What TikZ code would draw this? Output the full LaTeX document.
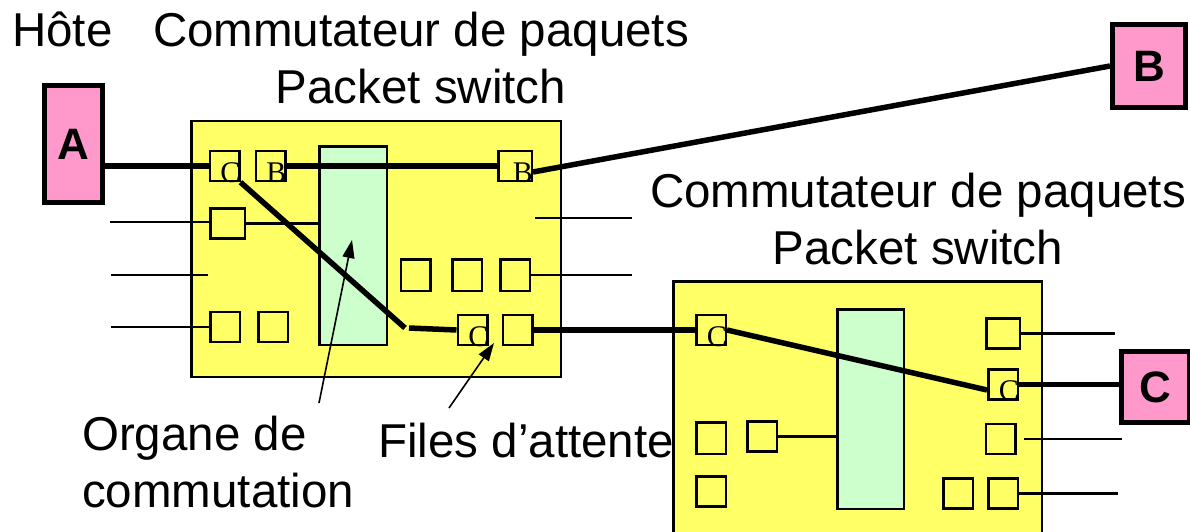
\documentclass[tikz,border=0pt]{standalone}
\usepackage{fontspec}
\setmainfont{Liberation Sans}
\newfontfamily\psserif{Liberation Serif}
\usepackage{tikz}
\usetikzlibrary{arrows.meta}
\definecolor{psYellow}{HTML}{FFFF66}
\definecolor{psGreen}{HTML}{CCFFCC}
\definecolor{psPink}{HTML}{FF99CC}
\tikzset{
  swbox/.style={draw, fill=psYellow, line width=2.5pt, anchor=north west, inner sep=0pt},
  fabric/.style={draw, fill=psGreen, line width=2.5pt, anchor=north west, inner sep=0pt},
  queue/.style={draw, line width=2.5pt, minimum width=29.5pt, minimum height=30pt, inner sep=0pt},
  qlabel/.style={anchor=base east, inner sep=0pt, font=\psserif\fontsize{30}{30}\selectfont},
  host/.style={draw, fill=psPink, line width=5pt, anchor=north west, inner sep=0pt,
    font=\fontsize{44}{44}\selectfont\bfseries},
  trunk/.style={line width=5.5pt},
  wire/.style={line width=2.5pt},
  callout/.style={-{Triangle[length=18pt, width=12pt]}, line width=1.6pt},
  caption/.style={inner sep=0pt, font=\fontsize{47.5}{57}\selectfont}
}

\begin{document}
\begin{tikzpicture}[x=1pt, y=-1pt]
  \useasboundingbox (0,0) rectangle (1190,532);
  % titles
  \node[caption, anchor=base west] (hote) at (12,47) {Hôte};
  \node[caption, align=center, anchor=base] (title1) at (421,103) {Commutateur de paquets\\Packet switch};
  \node[caption, align=center, anchor=base] (title2) at (918,264) {Commutateur de paquets\\Packet switch};
  % hosts
  \node[host, minimum width=58pt, minimum height=117pt] (A) at (42,83) {A};
  \node[host, minimum width=73pt, minimum height=83pt] (B) at (1110,22) {B};
  \node[host, minimum width=68pt, minimum height=71pt] (C) at (1119,349) {C};
  % first switch
  \node[swbox, minimum width=369.5pt, minimum height=255.5pt] (sw1) at (190,120) {};
  \node[fabric, minimum width=67.5pt, minimum height=198.5pt] (org1) at (318,145) {};
  \coordinate (w1a) at (110,222);
  \coordinate (w1b) at (535,218);
  \coordinate (w1c) at (632,218);
  \coordinate (w1d) at (111,275);
  \coordinate (w1e) at (208,275);
  \coordinate (w1f) at (632,273);
  \coordinate (w1g) at (111,327);
  \coordinate (pivot) at (405,328);
  \node[queue, label={[qlabel]south east:C}] (q1c) at (224.5,166) {};
  \node[queue, label={[qlabel]south east:B}] (q1b) at (270.5,166) {};
  \node[queue, minimum width=33.5pt, label={[qlabel]south east:B}] (q1bo) at (515,166) {};
  \node[queue, minimum width=34.5pt] (q1m) at (227.5,223.5) {};
  \node[queue, minimum height=31.5pt] (q1r1) at (415.5,275) {};
  \node[queue, minimum height=31.5pt] (q1r2) at (467,275) {};
  \node[queue, minimum height=31.5pt] (q1r3) at (515,275) {};
  \node[queue] (q1l1) at (225,327) {};
  \node[queue] (q1l2) at (273,327) {};
  \node[queue, label={[qlabel]south east:C}] (q1c2) at (472.5,330) {};
  \node[queue] (q1o) at (517.5,330) {};
  % second switch
  \node[swbox, minimum width=368.5pt, minimum height=270pt] (sw2) at (672,280) {};
  \node[fabric, minimum width=66.5pt, minimum height=199.5pt] (org2) at (836,308) {};
  \coordinate (w2a) at (1115,329);
  \coordinate (w2b) at (1024,439);
  \coordinate (w2c) at (1122,439);
  \coordinate (w2d) at (1118,490);
  \node[queue, label={[qlabel]south east:C}] (q2c) at (711,330) {};
  \node[queue, minimum width=33.5pt] (q2r1) at (1003,333.5) {};
  \node[queue, label={[qlabel]south east:C}] (q2rc) at (1003,384.5) {};
  \node[queue] (q2r3) at (1000.5,439) {};
  \node[queue] (q2r4a) at (958,493.5) {};
  \node[queue] (q2r4b) at (1003,493.5) {};
  \node[queue, minimum height=31.5pt] (q2l1) at (711,438) {};
  \node[queue] (q2l2) at (762,436.5) {};
  \node[queue] (q2l3) at (711,491.5) {};
  % thin links
  \draw[wire] (w1a) -- (w1a -| q1m.west);
  \draw[wire] (q1m.east) -- (q1m.east -| org1.west);
  \draw[wire] (w1b) -- (w1c);
  \draw[wire] (w1d) -- (w1e);
  \draw[wire] (q1r3.east) -- (q1r3.east -| w1f);
  \draw[wire] (w1g) -- (q1l1.west);
  \draw[wire] (q2r1.east) -- (q2r1.east -| w2a);
  \draw[wire] (w2b) -- (w2c);
  \draw[wire] (q2r4b.east) -- (q2r4b.east -| w2d);
  \draw[wire] (q2l2.east) -- (q2l2.east -| org2.west);
  % virtual circuits
  \draw[trunk] (A.east |- q1c.west) -- (q1c.west);
  \draw[trunk] (q1b.east) -- (q1bo.west);
  \draw[trunk] ([yshift=-6pt]q1bo.east) -- (B.west);
  \draw[trunk] (q1c.south east) -- (pivot);
  \draw[trunk] ([xshift=4pt]pivot) -- (q1c2.west);
  \draw[trunk] (q1o.east) -- (q2c.west);
  \draw[trunk] (q2c.east) -- ([yshift=-5.5pt]q2rc.west);
  \draw[trunk] (q2rc.east) -- (q2rc.east -| C.west);
  % captions
  \node[caption, align=left, anchor=base west] (organe) at (82,507) {Organe de\\commutation};
  \node[caption, anchor=base west] (files) at (378,457) {Files d’attente};
  \coordinate (orgtip) at (352,240);
  \coordinate (filtip) at (494,343);
  \draw[callout] (319,403) coordinate (orgtail) -- (orgtip);
  \draw[callout] (449,408) coordinate (filtail) -- (filtip);
\end{tikzpicture}
\end{document}
